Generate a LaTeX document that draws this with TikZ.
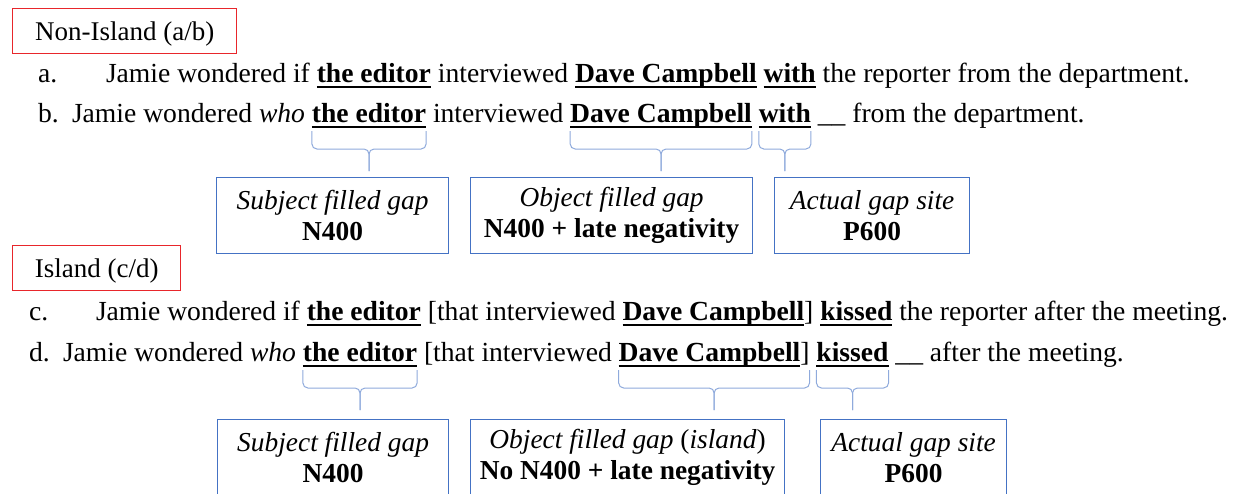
\documentclass[tikz,border=0pt]{standalone}
\usepackage{fontspec}
\setmainfont{Liberation Serif}
\usetikzlibrary{positioning, calc}
\definecolor{labelred}{HTML}{E8262B}
\definecolor{boxblue}{HTML}{4472C4}
\definecolor{braceblue}{HTML}{8FAADC}
\tikzset{
    word/.style={inner sep=0pt, outer sep=0pt, font=\fontsize{27.6}{32}\selectfont},
    keyword/.style={word, font=\fontsize{27.6}{32}\selectfont\bfseries},
    condbox/.style={draw=labelred, line width=1.4pt, inner sep=0pt, text height=22pt, text depth=3pt, minimum height=45pt, anchor=north west, font=\fontsize{27}{32}\selectfont},
    gapbox/.style={draw=boxblue, line width=1.2pt, inner sep=0pt, minimum height=76pt, align=center, anchor=north west, font=\fontsize{27.4}{30.5}\selectfont},
    uline/.style={line width=2.4pt},
    gapbrace/.style={draw=braceblue, line width=1pt, rounded corners=5pt}
}

\begin{document}
\begin{tikzpicture}[x=1pt, y=-1pt, node distance=0pt and 6.9pt]
        \clip (0,0) rectangle (1234,493);
        \fill[white] (0,0) rectangle (1234,493);

        % non-island sentences
        \node[condbox, minimum width=224pt] (nonisl) at (12,8) {Non-Island (a/b)};
        \node[word, anchor=base west] (a0) at (38,82) {a.};
        \node[word, anchor=base west] (a1) at (106,82) {Jamie wondered if};
        \node[keyword, base right=of a1] (a2) {the editor};
        \node[word, base right=of a2] (a3) {interviewed};
        \node[keyword, base right=of a3] (a4) {Dave Campbell};
        \node[keyword, base right=of a4] (a5) {with};
        \node[word, base right=of a5] (a6) {the reporter from the department.};

        \node[word, anchor=base west] (b0) at (38,122) {b.};
        \node[word, anchor=base west] (b1) at (72,122) {Jamie wondered \textit{who}};
        \node[keyword, base right=of b1] (b2) {the editor};
        \node[word, base right=of b2] (b3) {interviewed};
        \node[keyword, base right=of b3] (b4) {Dave Campbell};
        \node[keyword, base right=of b4] (b5) {with};
        \node[word, base right=of b5] (b6) {\_\_ from the department.};

        \node[gapbox, minimum width=232pt] (sub1) at (216,177) {\textit{Subject filled gap}\\\textbf{N400}};
        \node[gapbox, minimum width=282pt] (obj1) at (470,177) {\textit{Object filled gap}\\\textbf{N400 + late negativity}};
        \node[gapbox, minimum width=195pt] (act1) at (774,177) {\textit{Actual gap site}\\\textbf{P600}};

        % island sentences
        \node[condbox, minimum width=168pt] (isl) at (12,245) {Island (c/d)};
        \node[word, anchor=base west] (c0) at (29,320) {c.};
        \node[word, anchor=base west] (c1) at (96,320) {Jamie wondered if};
        \node[keyword, base right=of c1] (c2) {the editor};
        \node[word, base right=of c2] (c3) {[that interviewed};
        \node[keyword, base right=of c3] (c4) {Dave Campbell};
        \node[word, base right=0pt of c4] (c5) {]};
        \node[keyword, base right=of c5] (c6) {kissed};
        \node[word, base right=of c6] (c7) {the reporter after the meeting.};

        \node[word, anchor=base west] (d0) at (29,361) {d.};
        \node[word, anchor=base west] (d1) at (63,361) {Jamie wondered \textit{who}};
        \node[keyword, base right=of d1] (d2) {the editor};
        \node[word, base right=of d2] (d3) {[that interviewed};
        \node[keyword, base right=of d3] (d4) {Dave Campbell};
        \node[word, base right=0pt of d4] (d5) {]};
        \node[keyword, base right=of d5] (d6) {kissed};
        \node[word, base right=of d6] (d7) {\_\_ after the meeting.};

        \node[gapbox, minimum width=231pt] (sub2) at (217,419) {\textit{Subject filled gap}\\\textbf{N400}};
        \node[gapbox, minimum width=314pt] (obj2) at (470,419) {\textit{Object filled gap} (\textit{island})\\\textbf{No N400 + late negativity}};
        \node[gapbox, minimum width=186pt] (act2) at (820,419) {\textit{Actual gap site}\\\textbf{P600}};

        % underlines and braces
        \foreach \n in {a2,a4,a5,b2,b4,b5,c2,c4,c6,d2,d4,d6}
            \draw[uline] ([yshift=-5pt]\n.base west) -- ([yshift=-5pt]\n.base east);
        \foreach \l/\r in {b2/b2,b4/b4,b5/b5,d2/d2,d4/d5,d6/d6} {
            \coordinate (tip) at ($(\l.base west)!0.5!(\r.base east)$);
            \draw[gapbrace] ([yshift=-9pt]\l.base west) |- ([yshift=-27pt]tip) -- ([yshift=-49pt]tip);
            \draw[gapbrace] ([yshift=-9pt]\r.base east) |- ([yshift=-27pt]tip) -- ([yshift=-49pt]tip);
        }
    \end{tikzpicture}
\end{document}
